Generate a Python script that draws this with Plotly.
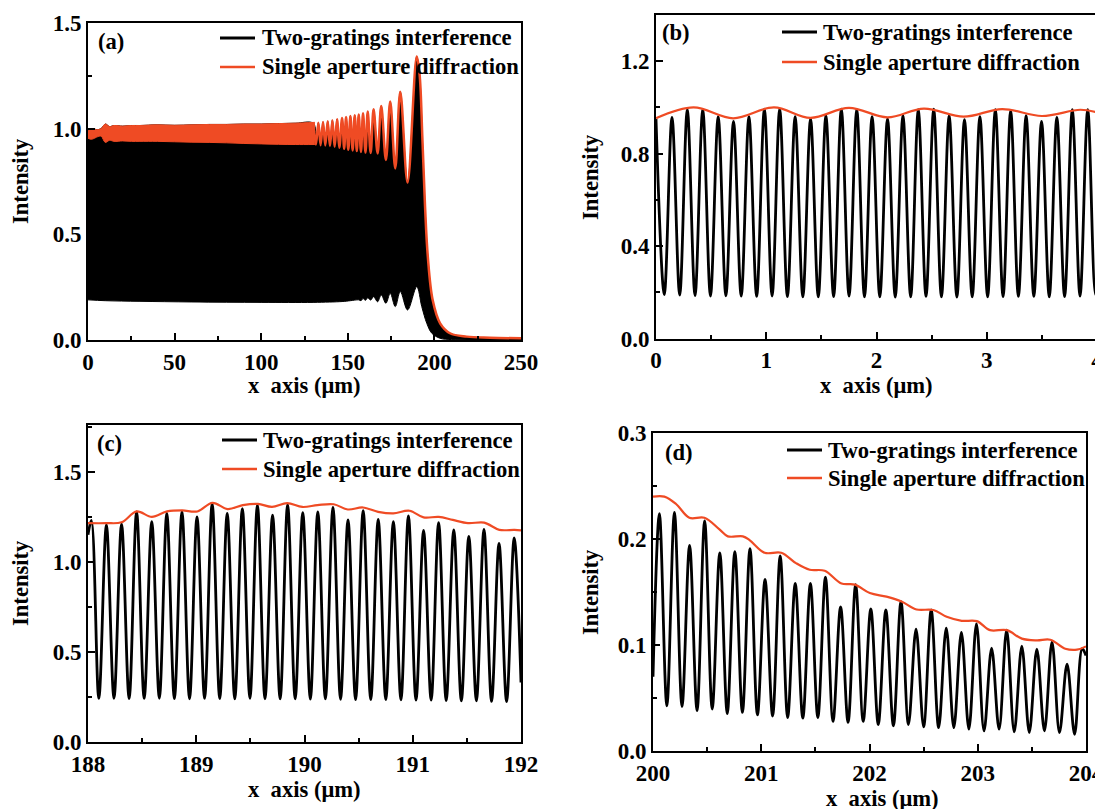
import plotly.graph_objects as go

W, H = 1103, 809
OFF = 8  # page body margin of the html page; layout coordinates below are page pixels
FONT = "Liberation Serif"
RED = "#EF4B24"
BLK = "#000000"
LEG1 = "Two-gratings interference"
LEG2 = "Single aperture diffraction"

# ---------------- panel (a): 0-250 um ----------------
# fast red ripple band (unresolved at this scale): upper / lower envelope
a_band_x = [0, 1.5, 3, 5, 7.5, 10, 12.5, 15, 20, 25, 30, 40, 50, 60, 70, 80, 90, 100, 110, 120, 131]
a_band_hi = [0.99, 1.0, 1.0, 0.995, 1.0, 1.022, 1.01, 1.015, 1.012, 1.015, 1.015, 1.018, 1.016, 1.018,
             1.02, 1.02, 1.022, 1.022, 1.024, 1.026, 1.03]
a_band_lo = [0.955, 0.95, 0.952, 0.96, 0.965, 0.935, 0.945, 0.94, 0.942, 0.94, 0.94, 0.94, 0.938, 0.936,
             0.935, 0.933, 0.93, 0.928, 0.926, 0.925, 0.925]
# resolved red oscillation (extrema) and edge fall-off
a_red_x = [130.2, 131.6, 133.0, 134.3, 135.7, 137.0, 138.4, 139.7, 141.1, 142.4,
           143.8, 145.1, 146.7, 147.9, 149.0, 150.3, 151.5, 152.8, 154.0, 155.2,
           156.3, 157.6, 158.8, 160.2, 161.5, 163.2, 164.9, 167.2, 169.3, 172.0,
           174.5, 177.4, 180.3, 184.5, 189.8, 191.4, 193.1, 194.6, 196.2, 199.0,
           203.3, 209.0, 218.6, 232.0, 250.0]
a_red_y = [1.025, 0.925, 1.028, 0.922, 1.032, 0.92, 1.035, 0.918, 1.04, 0.914,
           1.045, 0.91, 1.05, 0.905, 1.055, 0.90, 1.06, 0.897, 1.063, 0.894,
           1.067, 0.89, 1.073, 0.887, 1.081, 0.885, 1.092, 0.883, 1.107, 0.852,
           1.128, 0.812, 1.175, 0.745, 1.341, 1.262, 0.946, 0.631, 0.394, 0.189,
           0.079, 0.032, 0.016, 0.011, 0.008]
# lower envelope of the dense black interference fringes
a_blk_lo_x = [0, 10, 30, 60, 100, 130, 146.7, 151.5, 156.3, 157.6, 158.8, 160.2, 161.5, 163.2, 164.9,
              167.2, 169.3, 172.0, 174.5, 177.4, 180.3, 184.5, 189.8, 192.7, 195.6, 198.5, 203.3, 210, 250]
a_blk_lo_y = [0.19, 0.186, 0.183, 0.18, 0.178, 0.178, 0.182, 0.186, 0.19, 0.186, 0.196, 0.188, 0.20, 0.189,
              0.205, 0.181, 0.213, 0.174, 0.221, 0.158, 0.229, 0.142, 0.252, 0.158, 0.079, 0.032, 0.008,
              0.002, 0.0]

# ---------------- panel (b): 0-4 um ----------------
b_pk_x = [0.0, 0.145, 0.284, 0.424, 0.564, 0.703, 0.843, 0.983, 1.122, 1.262, 1.402, 1.541, 1.681, 1.821,
          1.960, 2.100, 2.240, 2.379, 2.519, 2.659, 2.798, 2.938, 3.078, 3.217, 3.357, 3.497, 3.636, 3.776, 3.916]
b_pk_y = [0.95, 0.957, 0.99, 0.99, 0.96, 0.94, 0.96, 0.993, 0.993, 0.96, 0.95, 0.964, 0.993, 0.99,
          0.96, 0.95, 0.964, 0.99, 0.993, 0.964, 0.947, 0.96, 0.99, 0.985, 0.964, 0.94, 0.957, 0.99, 0.99]
b_tr_x = [0.075, 0.215, 0.354, 0.494, 0.634, 0.773, 0.913, 1.053, 1.192, 1.332, 1.472, 1.611, 1.751, 1.891,
          2.030, 2.170, 2.310, 2.449, 2.589, 2.729, 2.868, 3.008, 3.148, 3.287, 3.427, 3.567, 3.706, 3.846,
          3.986, 4.0]
b_tr_y = [0.19, 0.188, 0.186, 0.184, 0.185, 0.183, 0.182, 0.184, 0.181, 0.18, 0.18, 0.181, 0.183, 0.18,
          0.18, 0.179, 0.18, 0.182, 0.18, 0.179, 0.18, 0.18, 0.181, 0.182, 0.182, 0.18, 0.181, 0.183,
          0.19, 0.21]
b_red_x = [0.0, 0.34, 0.70, 1.07, 1.40, 1.75, 2.10, 2.43, 2.79, 3.14, 3.50, 3.85, 4.0]
b_red_y = [0.953, 1.0, 0.953, 1.0, 0.955, 0.998, 0.957, 0.995, 0.96, 0.993, 0.963, 0.99, 0.978]

# ---------------- panel (c): 188-192 um ----------------
c_pk_x = [188.0, 188.031, 188.170, 188.310, 188.449, 188.589, 188.728, 188.868, 189.007, 189.147, 189.286,
          189.426, 189.565, 189.705, 189.844, 189.984, 190.123, 190.263, 190.402, 190.542, 190.681,
          190.821, 190.960, 191.100, 191.239, 191.379, 191.518, 191.658, 191.797, 191.937]
c_pk_y = [1.15, 1.23, 1.205, 1.21, 1.278, 1.224, 1.269, 1.278, 1.25, 1.324, 1.269, 1.296, 1.315, 1.26,
          1.318, 1.273, 1.278, 1.302, 1.233, 1.284, 1.236, 1.224, 1.255, 1.175, 1.218, 1.178, 1.142,
          1.18, 1.102, 1.133]
c_tr_x = [188.100, 188.240, 188.380, 188.519, 188.659, 188.798, 188.938, 189.077, 189.217, 189.356,
          189.496, 189.635, 189.775, 189.914, 190.054, 190.193, 190.333, 190.472, 190.612, 190.751,
          190.891, 191.030, 191.170, 191.309, 191.449, 191.588, 191.728, 191.867, 192.0]
c_tr_y = [0.242, 0.243, 0.241, 0.242, 0.243, 0.241, 0.24, 0.242, 0.241, 0.24, 0.242, 0.24, 0.239, 0.24,
          0.238, 0.239, 0.237, 0.236, 0.235, 0.236, 0.234, 0.232, 0.233, 0.23, 0.228, 0.229, 0.225,
          0.224, 0.33]
c_red_x = [188.0, 188.17, 188.31, 188.45, 188.59, 188.73, 188.87, 189.01, 189.15, 189.29, 189.43, 189.57,
           189.70, 189.84, 189.98, 190.12, 190.27, 190.40, 190.54, 190.68, 190.82, 190.97, 191.10, 191.24,
           191.37, 191.51, 191.66, 191.80, 191.94, 192.0]
c_red_y = [1.215, 1.215, 1.22, 1.28, 1.25, 1.28, 1.286, 1.28, 1.328, 1.293, 1.315, 1.322, 1.305, 1.326,
           1.305, 1.315, 1.32, 1.291, 1.302, 1.278, 1.269, 1.284, 1.247, 1.25, 1.233, 1.215, 1.218,
           1.178, 1.178, 1.175]

# ---------------- panel (d): 200-204 um ----------------
d_pk_x = [200.059, 200.198, 200.338, 200.477, 200.617, 200.756, 200.896, 201.035, 201.175, 201.314,
          201.454, 201.593, 201.733, 201.872, 202.012, 202.151, 202.291, 202.430, 202.570, 202.709,
          202.849, 202.988, 203.128, 203.267, 203.407, 203.546, 203.686, 203.825, 203.965]
d_pk_y = [0.224, 0.225, 0.194, 0.217, 0.187, 0.188, 0.191, 0.162, 0.184, 0.158, 0.158, 0.164, 0.136,
          0.157, 0.134, 0.133, 0.141, 0.115, 0.133, 0.116, 0.112, 0.120, 0.097, 0.114, 0.099, 0.096,
          0.103, 0.082, 0.0965]
d_tr_x = [200.0, 200.128, 200.268, 200.407, 200.547, 200.686, 200.826, 200.965, 201.105, 201.244, 201.384,
          201.523, 201.663, 201.802, 201.942, 202.081, 202.221, 202.360, 202.500, 202.639, 202.779,
          202.918, 203.058, 203.197, 203.337, 203.476, 203.616, 203.755, 203.895, 204.0]
d_tr_y = [0.07, 0.0427, 0.042, 0.038, 0.0396, 0.0354, 0.0364, 0.034, 0.033, 0.0316, 0.031, 0.0316,
          0.028, 0.027, 0.028, 0.025, 0.0237, 0.025, 0.0228, 0.022, 0.022, 0.0206, 0.019, 0.0206,
          0.018, 0.0174, 0.019, 0.0174, 0.0158, 0.09]
d_red_x = [200.0, 200.105, 200.213, 200.336, 200.475, 200.614, 200.691, 200.830, 200.892, 201.031,
           201.185, 201.324, 201.448, 201.586, 201.741, 201.864, 202.003, 202.157, 202.296, 202.435,
           202.590, 202.713, 202.852, 202.991, 203.114, 203.269, 203.407, 203.546, 203.670, 203.809,
           203.917, 204.0]
d_red_y = [0.24, 0.24, 0.233, 0.22, 0.22, 0.209, 0.2025, 0.2025, 0.199, 0.187, 0.187, 0.177, 0.171,
           0.170, 0.158, 0.157, 0.149, 0.1456, 0.141, 0.1335, 0.133, 0.1266, 0.1228, 0.1225, 0.114,
           0.114, 0.106, 0.1044, 0.105, 0.0965, 0.0956, 0.0987]


def merge(px, py, tx, ty):
    pts = sorted(list(zip(px, py)) + list(zip(tx, ty)))
    return [p[0] for p in pts], [p[1] for p in pts]


fig = go.Figure()

# ---- (a) ----
up_x = [x for x in a_band_x if x < a_red_x[0]] + a_red_x
up_y = [y for x, y in zip(a_band_x, a_band_hi) if x < a_red_x[0]] + a_red_y
fig.add_trace(go.Scatter(x=a_blk_lo_x, y=a_blk_lo_y, mode="lines", xaxis="x", yaxis="y",
                         line=dict(color=BLK, width=1, shape="spline"), hoverinfo="skip"))
fig.add_trace(go.Scatter(x=up_x, y=up_y, mode="lines", xaxis="x", yaxis="y", fill="tonexty",
                         fillcolor=BLK, line=dict(color=BLK, width=1, shape="spline"),
                         name=LEG1, hoverinfo="skip"))
fig.add_trace(go.Scatter(x=a_band_x, y=a_band_lo, mode="lines", xaxis="x", yaxis="y",
                         line=dict(color=RED, width=1, shape="spline"), hoverinfo="skip"))
fig.add_trace(go.Scatter(x=a_band_x, y=a_band_hi, mode="lines", xaxis="x", yaxis="y", fill="tonexty",
                         fillcolor=RED, line=dict(color=RED, width=1, shape="spline"), hoverinfo="skip"))
fig.add_trace(go.Scatter(x=a_red_x, y=a_red_y, mode="lines", xaxis="x", yaxis="y", name=LEG2,
                         line=dict(color=RED, width=2.5, shape="spline")))

# ---- (b), (c), (d) ----
panels = [
    ("x2", "y2", (b_pk_x, b_pk_y, b_tr_x, b_tr_y), (b_red_x, b_red_y)),
    ("x3", "y3", (c_pk_x, c_pk_y, c_tr_x, c_tr_y), (c_red_x, c_red_y)),
    ("x4", "y4", (d_pk_x, d_pk_y, d_tr_x, d_tr_y), (d_red_x, d_red_y)),
]
for xa, ya, blk, red in panels:
    bx, by = merge(*blk)
    fig.add_trace(go.Scatter(x=bx, y=by, mode="lines", xaxis=xa, yaxis=ya, name=LEG1,
                             line=dict(color=BLK, width=2.8, shape="spline")))
    fig.add_trace(go.Scatter(x=red[0], y=red[1], mode="lines", xaxis=xa, yaxis=ya, name=LEG2,
                             line=dict(color=RED, width=2.2, shape="spline")))

tickfont = dict(family=FONT, size=23, color=BLK, weight="bold")
TXT = 22.6


def axis(dom, rng, dtick, mdtick, anchor, fmt=None):
    d = dict(domain=dom, range=rng, dtick=dtick, tick0=rng[0], anchor=anchor, automargin=False,
             showline=True, linewidth=2, linecolor=BLK, mirror=True,
             ticks="inside", ticklen=7, tickwidth=2, tickcolor=BLK,
             minor=dict(dtick=mdtick, ticks="inside", ticklen=4, tickwidth=1.5, tickcolor=BLK, showgrid=False),
             showgrid=False, zeroline=False, tickfont=tickfont, fixedrange=True)
    if fmt:
        d["tickformat"] = fmt
    return d


def fx(p):
    return (p - OFF) / W


def fy(p):
    return 1 - (p - OFF) / H


def dx(a, b):
    return [fx(a), fx(b)]


def dy(top, bot):
    return [fy(bot), fy(top)]


ann = []
shapes = []


def text(x, y, s, angle=0, anchor="center"):
    ann.append(dict(x=fx(x), y=fy(y), xref="paper", yref="paper", text=s, showarrow=False,
                    textangle=angle, xanchor=anchor, yanchor="middle",
                    font=dict(family=FONT, size=TXT, color=BLK, weight="bold")))


def legend(x0, x1, xt, y1, y2):
    shapes.append(dict(type="line", xref="paper", yref="paper", x0=fx(x0), x1=fx(x1),
                       y0=fy(y1), y1=fy(y1), line=dict(color=BLK, width=3)))
    shapes.append(dict(type="line", xref="paper", yref="paper", x0=fx(x0), x1=fx(x1),
                       y0=fy(y2), y1=fy(y2), line=dict(color=RED, width=2.5)))
    text(xt, y1, LEG1, anchor="left")
    text(xt, y2, LEG2, anchor="left")


XT = "x\u00a0 axis (\u03bcm)"
text(20, 181, "Intensity", -90)
text(590, 177, "Intensity", -90)
text(20, 583, "Intensity", -90)
text(590, 592, "Intensity", -90)
text(304, 385, XT)
text(876, 386, XT)
text(304, 789, XT)
text(882, 798, XT)
text(96, 42, "(a)", anchor="left")
text(660, 32, "(b)", anchor="left")
text(95, 444, "(c)", anchor="left")
text(663, 453, "(d)", anchor="left")
legend(220, 255, 260, 38, 67)
legend(782, 817, 821, 32, 62)
legend(222, 257, 261, 440, 469)
legend(787, 822, 826, 450, 478)

fig.update_layout(
    width=W, height=H, margin=dict(l=0, r=0, t=0, b=0, autoexpand=False),
    paper_bgcolor="white", plot_bgcolor="white",
    xaxis=axis(dx(88, 521), [0, 250], 50, 25, "y"),
    yaxis=axis(dy(23, 340), [0, 1.5], 0.5, 0.25, "x", ".1f"),
    xaxis2=axis(dx(656, 1097), [0, 4], 1, 0.5, "y2"),
    yaxis2=axis(dy(15, 338.5), [0, 1.4], 0.4, 0.2, "x2", ".1f"),
    xaxis3=axis(dx(88, 521), [188, 192], 1, 0.5, "y3"),
    yaxis3=axis(dy(425, 742), [0, 1.76], 0.5, 0.25, "x3", ".1f"),
    xaxis4=axis(dx(653, 1086), [200, 204], 1, 0.5, "y4"),
    yaxis4=axis(dy(433, 751), [0, 0.3], 0.1, 0.05, "x4", ".1f"),
    annotations=ann,
    shapes=shapes,
    showlegend=False,
)

fig.write_html("out.html")
